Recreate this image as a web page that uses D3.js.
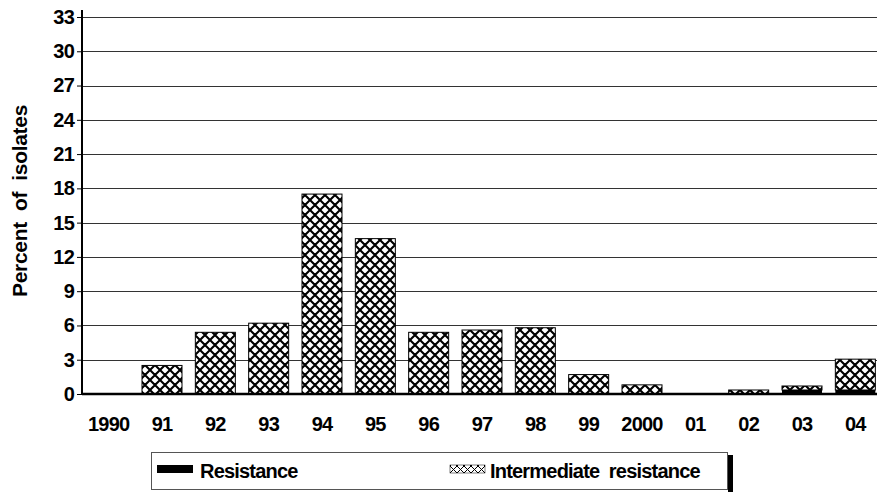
<!DOCTYPE html>
<html><head><meta charset="utf-8">
<script src="https://cdn.jsdelivr.net/npm/d3@7"></script>
<style>body{margin:0;background:#fff}svg{display:block}text{font-family:"Liberation Sans",Arial,sans-serif;white-space:pre}</style>
</head><body><svg id="c" width="877" height="492"></svg>
<script>
const categories = ["1990","91","92","93","94","95","96","97","98","99","2000","01","02","03","04"];
const resistance = [0,0,0,0,0,0,0,0,0,0,0,0,0,0.35,0.35];
const intermediate = [0,2.5,5.4,6.2,17.5,13.6,5.4,5.6,5.8,1.7,0.8,0,0.35,0.35,2.7];
const yTicks = [0,3,6,9,12,15,18,21,24,27,30,33];
const seriesNames = ["Resistance","Intermediate  resistance"];

(function(){
const svg = d3.select("#c");
const mLeft = 82, mRight = 877, mTop = 17, mBottom = 394;
const x = d3.scaleBand().domain(categories).range([mLeft, 882]).paddingInner(0.25).paddingOuter(0.125);
const y = d3.scaleLinear().domain([0,33]).range([mBottom, mTop]);

const defs = svg.append("defs");
const pat = defs.append("pattern").attr("id","hatch").attr("patternUnits","userSpaceOnUse")
  .attr("width",10).attr("height",10);
pat.append("rect").attr("width",10).attr("height",10).attr("fill","#fff");
pat.append("path").attr("d","M-1,-1 L11,11 M-1,11 L11,-1 M4,-6 L16,6 M-6,4 L6,16 M4,16 L16,4 M-6,6 L6,-6")
  .attr("stroke","#000").attr("stroke-width",2.1);
const pat2 = defs.append("pattern").attr("id","hatchS").attr("patternUnits","userSpaceOnUse")
  .attr("width",7).attr("height",7).attr("x",450).attr("y",466);
pat2.append("rect").attr("width",7).attr("height",7).attr("fill","#fff");
pat2.append("path").attr("d","M-1,-1 L8,8 M-1,8 L8,-1")
  .attr("stroke","#000").attr("stroke-width",1);

// gridlines
svg.append("g").selectAll("line").data(yTicks.filter(d=>d>0)).join("line")
  .attr("x1",mLeft).attr("x2",mRight).attr("y1",d=>Math.round(y(d))+0.5).attr("y2",d=>Math.round(y(d))+0.5)
  .attr("stroke","#333").attr("stroke-width",1);

// y axis
const ya = svg.append("g").attr("transform",`translate(${mLeft},0)`)
  .call(d3.axisLeft(y).tickValues(yTicks).tickSize(5).tickPadding(3));
ya.select(".domain").remove();
ya.selectAll(".tick line").attr("stroke","#000");
ya.selectAll("text").attr("font-size",20).attr("font-weight","bold").attr("fill","#000").style("letter-spacing","-0.8px");
svg.append("line").attr("x1",mLeft).attr("x2",mLeft).attr("y1",10).attr("y2",mBottom+1).attr("stroke","#000").attr("stroke-width",2);

// bars
const g = svg.append("g");
categories.forEach((c,i)=>{
  const r = resistance[i], m = intermediate[i];
  if (m > 0) g.append("rect").attr("x",x(c)).attr("width",x.bandwidth())
    .attr("y",y(r+m)).attr("height",y(r)-y(r+m)).attr("fill","url(#hatch)").attr("stroke","#000").attr("stroke-width",1);
  if (r > 0) g.append("rect").attr("x",x(c)).attr("width",x.bandwidth())
    .attr("y",y(r)).attr("height",y(0)-y(r)).attr("fill","#000");
});

// x axis
svg.append("line").attr("x1",mLeft).attr("x2",mRight).attr("y1",mBottom).attr("y2",mBottom).attr("stroke","#000").attr("stroke-width",2.5);
const xa = svg.append("g").attr("transform",`translate(0,${mBottom})`).call(d3.axisBottom(x).tickSize(0).tickPadding(23));
xa.select(".domain").remove();
xa.selectAll("text").attr("font-size",20).attr("font-weight","bold").attr("fill","#000").style("letter-spacing","-0.8px");

// y title
svg.append("text").attr("transform","translate(27,201) rotate(-90)").attr("text-anchor","middle")
  .attr("font-size",21).attr("font-weight","bold").style("letter-spacing","-0.3px").text("Percent  of  isolates");

// legend
const lg = svg.append("g");
lg.append("rect").attr("x",728).attr("y",455).attr("width",5).attr("height",37).attr("fill","#000");
lg.append("rect").attr("x",151.5).attr("y",452.5).attr("width",576).attr("height",37).attr("fill","#fff").attr("stroke","#555").attr("stroke-width",1);
lg.append("rect").attr("x",157).attr("y",465).attr("width",36).attr("height",8).attr("fill","#000");
lg.append("text").attr("x",200).attr("y",478).attr("font-size",20).attr("font-weight","bold").style("letter-spacing","-0.8px").text(seriesNames[0]);
lg.append("rect").attr("x",450).attr("y",465).attr("width",35).attr("height",8).attr("fill","url(#hatchS)").attr("stroke","#000").attr("stroke-width",0.5);
lg.append("text").attr("x",490).attr("y",478).attr("font-size",20).attr("font-weight","bold").style("letter-spacing","-0.8px").text(seriesNames[1]);
})();
</script></body></html>
